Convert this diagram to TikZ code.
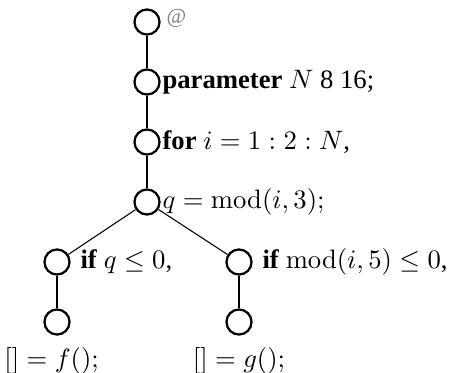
\documentclass[tikz,border=0pt]{standalone}
\usepackage{amsmath}
\usepackage[no-math]{fontspec}
\setmainfont{Liberation Serif}
\usepackage{tikz}
\usetikzlibrary{positioning}

\begin{document}
\begin{tikzpicture}[x=0.375pt, y=-0.375pt, vtx/.style={circle, draw, line width=0.85pt, minimum size=9.4pt, inner sep=0pt}, lbl/.style={inner sep=0.5pt, anchor=west}, edge/.style={line width=0.4pt}]
  \useasboundingbox (0,0) rectangle (451,372);
  % spine
  \node[vtx] (root) at (147,22) {};
  \node[vtx] (param) at (147,82) {};
  \node[vtx] (loop) at (147,142) {};
  \node[vtx] (assign) at (147,202) {};
  % branches
  \node[vtx] (ifa) at (57,262) {};
  \node[vtx] (ifb) at (239,262) {};
  \node[vtx] (calla) at (57,322) {};
  \node[vtx] (callb) at (239,322) {};
  % labels
  \node[lbl, text=gray, font=\footnotesize] at ([xshift=1.5pt, yshift=1.5pt]root.east) {@};
  \node[lbl] at (param.east) {\textbf{parameter} $N$ 8 16;};
  \node[lbl] at (loop.east) {\textbf{for} $i=1:2:N$,};
  \node[lbl] at (assign.east) {$q=\operatorname{mod}(i,3);$};
  \node[lbl] at ([xshift=3pt]ifa.east) {\textbf{if} $q\le0$,};
  \node[lbl] at ([xshift=3pt]ifb.east) {\textbf{if} $\operatorname{mod}(i,5)\le0$,};
  \node[below=1pt of calla, xshift=-2pt] {$[]=f();$};
  \node[below=1pt of callb] {$[]=g();$};
  % connectors
  \draw[edge] (root) -- (param);
  \draw[edge] (param) -- (loop);
  \draw[edge] (loop) -- (assign);
  \draw[edge] (assign) -- (ifa);
  \draw[edge] (assign) -- (ifb);
  \draw[edge] (ifa) -- (calla);
  \draw[edge] (ifb) -- (callb);
\end{tikzpicture}
\end{document}
